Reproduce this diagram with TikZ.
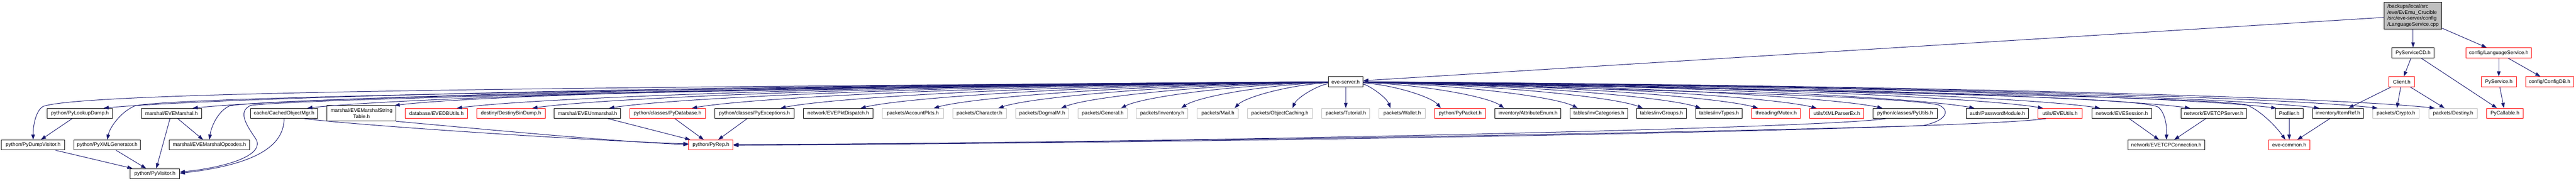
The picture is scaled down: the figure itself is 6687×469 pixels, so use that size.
\documentclass[tikz,border=0pt]{standalone}
\usepackage{fontspec}
\setmainfont{Liberation Sans}
\usetikzlibrary{arrows.meta,calc}
\definecolor{edgecol}{HTML}{191970}
\definecolor{grayb}{HTML}{BFBFBF}
\newcommand\nd[6]{\node[#1, minimum width={(#4-#3)*0.75pt}] (#2) at ({(#3+#4)/2},#5) {#6};}
\newcommand\fan[2]{\draw[dep] let \p1=(es.center), \p2=($(#1.north)!#2!(#1.north east)$) in (es) .. controls ({\x1+0.5*(\x2-\x1)},{\y1-6}) and ({\x2+0.1*(\x1-\x2)},{\y2+22}) .. (\p2);}
\begin{document}
\begin{tikzpicture}[x=0.75pt,y=-0.75pt,
 font=\fontsize{10}{11.5}\selectfont,
 bx/.style={draw=black,line width=1pt,inner sep=0pt,minimum height=19.5pt,fill=white,text=black},
 rbx/.style={bx,draw=red},
 gbx/.style={bx,draw=grayb},
 dep/.style={draw=edgecol,line width=1pt,-{Triangle[length=10pt,width=7pt]}}]
\useasboundingbox (0,0) rectangle (6687,469);
% rank 0
\node[bx, fill=grayb, align=left, minimum width=112.5pt, minimum height=51.75pt] (main) at (6264,40.5) {/backups/local/src\\/eve/EvEmu\_Crucible\\/src/eve-server/config\\/LanguageService.cpp};
% rank 1
\nd{bx}{pscd}{6209}{6319}{137}{PyServiceCD.h}
\nd{rbx}{lsh}{6402}{6571}{137}{config/LanguageService.h}
% rank 2
\nd{bx}{es}{3448}{3538}{212}{eve-server.h}
\nd{rbx}{cli}{6201}{6268}{212}{Client.h}
\nd{rbx}{psv}{6441}{6532}{212}{PyService.h}
\nd{rbx}{cdb}{6556}{6681}{212}{config/ConfigDB.h}
% rank 3
\nd{bx}{pld}{123}{292}{294}{python/PyLookupDump.h}
\nd{bx}{em}{367}{523}{294}{marshal/EVEMarshal.h}
\nd{bx}{com}{650}{825}{294}{cache/CachedObjectMgr.h}
\node[bx, align=center, minimum width={179*0.75pt}, minimum height=30pt] (emst) at (938.5,294) {marshal/EVEMarshalString\\Table.h};
\nd{rbx}{edb}{1052}{1214}{294}{database/EVEDBUtils.h}
\nd{rbx}{dbd}{1238}{1415}{294}{destiny/DestinyBinDump.h}
\nd{bx}{eum}{1439}{1611}{294}{marshal/EVEUnmarshal.h}
\nd{rbx}{pdb}{1635}{1831}{294}{python/classes/PyDatabase.h}
\nd{bx}{pex}{1855}{2062}{294}{python/classes/PyExceptions.h}
\nd{bx}{epd}{2086}{2266}{294}{network/EVEPktDispatch.h}
\nd{gbx}{pap}{2290}{2449}{294}{packets/AccountPkts.h}
\nd{gbx}{pch}{2473}{2612}{294}{packets/Character.h}
\nd{gbx}{pdg}{2636}{2775}{294}{packets/DogmaIM.h}
\nd{gbx}{pge}{2798}{2927}{294}{packets/General.h}
\nd{gbx}{pin}{2950}{3084}{294}{packets/Inventory.h}
\nd{gbx}{pma}{3108}{3215}{294}{packets/Mail.h}
\nd{gbx}{poc}{3238}{3407}{294}{packets/ObjectCaching.h}
\nd{gbx}{ptu}{3431}{3556}{294}{packets/Tutorial.h}
\nd{gbx}{pwa}{3580}{3700}{294}{packets/Wallet.h}
\nd{rbx}{ppk}{3724}{3857}{294}{python/PyPacket.h}
\nd{bx}{iae}{3881}{4052}{294}{inventory/AttributeEnum.h}
\nd{bx}{tic}{4076}{4225}{294}{tables/invCategories.h}
\nd{bx}{tig}{4248}{4378}{294}{tables/invGroups.h}
\nd{bx}{tit}{4402}{4523}{294}{tables/invTypes.h}
\nd{rbx}{mtx}{4547}{4674}{294}{threading/Mutex.h}
\nd{rbx}{xml}{4698}{4838}{294}{utils/XMLParserEx.h}
\nd{bx}{pyu}{4862}{5029}{294}{python/classes/PyUtils.h}
\nd{bx}{apm}{5104}{5266}{294}{auth/PasswordModule.h}
\nd{rbx}{eut}{5290}{5405}{294}{utils/EVEUtils.h}
\nd{bx}{ess}{5430}{5586}{294}{network/EVESession.h}
\nd{bx}{ets}{5662}{5831}{294}{network/EVETCPServer.h}
\nd{bx}{prf}{5906}{5979}{294}{Profiler.h}
\nd{bx}{irf}{6003}{6135}{294}{inventory/ItemRef.h}
\nd{gbx}{pcr}{6159}{6280}{294}{packets/Crypto.h}
\nd{gbx}{pds}{6305}{6431}{294}{packets/Destiny.h}
\nd{rbx}{pca}{6455}{6550}{294}{PyCallable.h}
% rank 4
\nd{bx}{pdv}{4}{168}{376}{python/PyDumpVisitor.h}
\nd{bx}{pxg}{192}{365}{376}{python/PyXMLGenerator.h}
\nd{bx}{emo}{439}{648}{376}{marshal/EVEMarshalOpcodes.h}
\nd{rbx}{prp}{1788}{1903}{376}{python/PyRep.h}
\nd{bx}{etc}{5524}{5723}{376}{network/EVETCPConnection.h}
\nd{rbx}{ecm}{5889}{5996}{376}{eve-common.h}
% rank 5
\nd{bx}{pvi}{338}{466}{450.5}{python/PyVisitor.h}
% edges from the main file
\draw[dep] (main) -- (es);
\draw[dep] (main) -- (pscd);
\draw[dep] (main) -- (lsh);
\draw[dep] (pscd) -- (cli);
\draw[dep] (pscd) -- (pca);
\draw[dep] (lsh) -- (psv);
\draw[dep] (lsh) -- (cdb);
\draw[dep] (psv) -- (pca);
\draw[dep] (cli) -- (irf);
\draw[dep] (cli) -- (pcr);
\draw[dep] (cli) -- (pds);
% fan of eve-server.h
\fan{pld}{0.72} \fan{em}{0.7} \fan{com}{0.68} \fan{emst}{0.95} \fan{edb}{0.65}
\fan{dbd}{0.62} \fan{eum}{0.65} \fan{pdb}{0.64} \fan{pex}{0.65} \fan{epd}{0.64}
\fan{pap}{0.68} \fan{pch}{0.7} \fan{pdg}{0.7} \fan{pge}{0.73} \fan{pin}{0.73}
\fan{pma}{0.8} \fan{poc}{0.38} \fan{ptu}{0} \fan{pwa}{-0.5} \fan{ppk}{-0.75}
\fan{iae}{-0.72} \fan{tic}{-0.73} \fan{tig}{-0.74} \fan{tit}{-0.78} \fan{mtx}{-0.73}
\fan{xml}{-0.74} \fan{pyu}{-0.7} \fan{apm}{-0.73} \fan{eut}{-0.76} \fan{ess}{-0.72}
\fan{ets}{-0.72} \fan{prf}{-0.9} \fan{irf}{-0.73} \fan{pcr}{-0.78} \fan{pds}{-0.75}
% long edges of eve-server.h
\draw[dep] (es) .. controls (1600,226) and (220,236) .. (112,276) .. controls (95,285) and (86,320) .. (pdv.north);
\draw[dep] (es) .. controls (1800,229) and (480,250) .. (352,274) .. controls (315,288) and (285,330) .. (pxg.north);
\draw[dep] (es) .. controls (2000,228) and (760,252) .. (597,274) .. controls (565,288) and (548,330) .. (emo.north);
\draw[dep] (es) .. controls (2100,230) and (860,252) .. (652,273) .. controls (615,288) and (640,325) .. (664,360) .. controls (688,400) and (600,432) .. ($(pvi.east)+(0,-4)$);
\draw[dep] (es) .. controls (4300,234) and (4930,250) .. (5032,272) .. controls (5062,285) and (5058,312) .. (4990,326) .. controls (4100,352) and (2600,372) .. (prp.east);
\draw[dep] (es) .. controls (4800,236) and (5555,250) .. (5603,278) .. controls (5622,295) and (5625,330) .. (etc.north);
\draw[dep] (es) .. controls (4900,238) and (5720,252) .. (5832,272) .. controls (5870,288) and (5910,330) .. ($(ecm.north)+(-10,0)$);
% lower edges
\draw[dep] (pld) -- (pdv);
\draw[dep] (em) -- (pvi);
\draw[dep] (em) -- (emo);
\draw[dep] (pdv) -- (pvi);
\draw[dep] (pxg) -- (pvi);
\draw[dep] (com.south) .. controls (737,385) and (650,428) .. ($(pvi.east)+(0,-1)$);
\draw[dep] ($(com.south)!0.6!(com.south east)$) .. controls (920,325) and (1550,366) .. ($(prp.west)+(0,-3)$);
\draw[dep] (emst.south east) .. controls (1200,330) and (1600,368) .. ($(prp.west)+(0,-1)$);
\draw[dep] (eum) -- (prp);
\draw[dep] (pdb) -- (prp);
\draw[dep] (pex) -- (prp);
\draw[dep] ($(pyu.south)!0.6!(pyu.south west)$) .. controls (4750,332) and (3100,370) .. ($(prp.east)+(0,-1)$);
\draw[dep] ($(eut.south)!0.63!(eut.south west)$) .. controls (5150,332) and (3600,366) .. ($(prp.east)+(0,1)$);
\draw[dep] (ets) -- (etc);
\draw[dep] (ess) -- (etc);
\draw[dep] (prf) -- (ecm);
\draw[dep] (irf) -- (ecm);
\end{tikzpicture}
\end{document}
